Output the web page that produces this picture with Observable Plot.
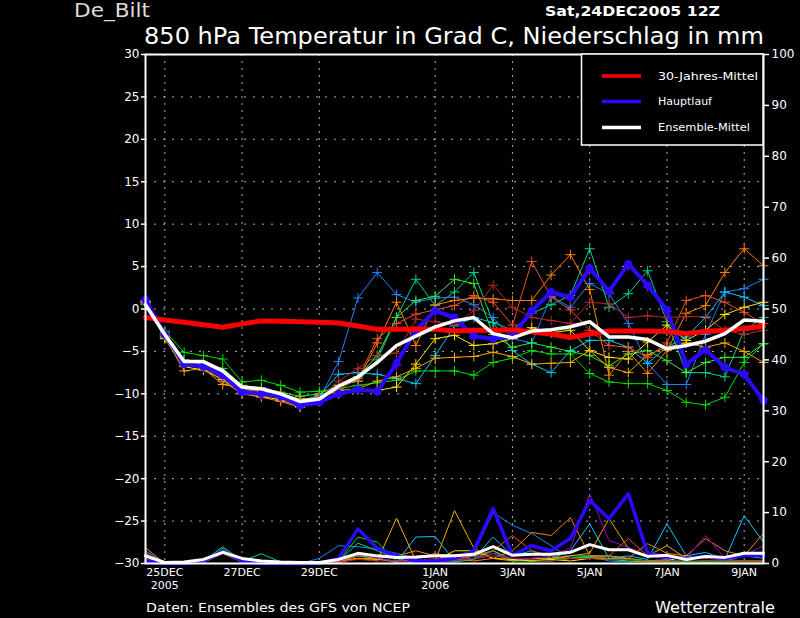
<!DOCTYPE html>
<html><head><meta charset="utf-8">
<script src="https://cdn.jsdelivr.net/npm/d3@7"></script>
<script src="https://cdn.jsdelivr.net/npm/@observablehq/plot@0.6"></script>
<style>
body{margin:0;background:#000;}
#chart{width:800px;height:618px;background:#000;}
</style>
</head><body><div id="chart"></div>
<script>
// ---- DATA ----
const station = "De_Bilt";
const runLabel = "Sat,24DEC2005 12Z";
const titleText = "850 hPa Temperatur in Grad C, Niederschlag in mm";
const sourceText = "Daten: Ensembles des GFS von NCEP";
const brandText = "Wetterzentrale";
const startTime = "2005-12-24T12:00Z";
const stepHours = 12;
const xTickDates = ["2005-12-25","2005-12-27","2005-12-29","2006-01-01","2006-01-03","2006-01-05","2006-01-07","2006-01-09"];
const xTickLabels = ["25DEC\n2005","27DEC","29DEC","1JAN\n2006","3JAN","5JAN","7JAN","9JAN"];
const tempTicks = [-30,-25,-20,-15,-10,-5,0,5,10,15,20,25,30];
const precipTicks = [0,10,20,30,40,50,60,70,80,90,100];
const legendLabels = ["30-Jahres-Mittel","Hauptlauf","Ensemble-Mittel"];

// 30-year climate mean (deg C)
const climT = [-1.0,-1.3,-1.55,-1.85,-2.15,-1.75,-1.4,-1.45,-1.5,-1.55,-1.65,-2.0,-2.4,-2.4,-2.35,-2.4,-2.6,-2.5,-2.5,-2.45,-2.7,-2.95,-3.35,-2.95,-2.6,-2.6,-2.6,-2.65,-2.9,-2.65,-2.5,-2.3,-2.0];
// Main run (Hauptlauf)
const mainT = [1.1,-3.0,-6.5,-6.8,-7.8,-9.8,-10.0,-10.3,-11.4,-11.0,-10.0,-9.5,-9.7,-6.4,-2.5,-0.2,-1.0,-3.2,-3.5,-3.2,-0.2,2.0,1.4,4.8,2.1,5.3,2.8,-0.1,-6.5,-4.8,-6.9,-7.7,-10.8];
const mainP = [0.5,0,0,0.5,2.5,0.5,0,0,0,0,1.0,6.8,3.0,1.5,0.5,0.5,1.0,2.5,10.8,1.6,3.5,2.5,4.9,12.4,8.8,13.7,2.0,1.4,1.0,1.4,1.0,1.6,1.6];
// Ensemble mean
const meanT = [0.5,-3.0,-6.2,-6.2,-7.3,-9.2,-9.4,-10.0,-10.9,-10.6,-9.1,-8.0,-6.3,-4.3,-3.2,-2.1,-1.4,-1.0,-2.9,-3.4,-2.6,-2.45,-2.1,-1.5,-3.3,-3.3,-3.6,-4.7,-4.3,-3.8,-2.9,-1.3,-1.45];
const meanP = [1.5,0.2,0.3,0.8,2.2,1.0,0.5,0.3,0.2,0.2,0.8,2.0,1.5,1.2,1.3,1.5,1.5,1.8,3.3,1.6,1.8,1.8,2.2,3.7,2.7,2.7,1.4,1.6,0.8,1.4,1.2,2.0,2.0];

// Ensemble members
const memberNames  = ["m01","m02","m03","m04","m05","m06","m07","m08","m09","m10","m11"];
const memberColors = ["#1e82ff","#00c8ff","#00d28c","#00dc00","#32ec32","#ffe600","#f0aa00","#ff8200","#f05028","#b4282d","#a000c8"];
const m01T = [0.8,-3.2,-6.5,-6.9,-8.1,-9.7,-10.1,-10.5,-11.3,-10.6,-6.2,1.3,4.3,1.7,0.8,1.3,1.4,0.5,-1.0,-3.5,-4.0,1.5,0.2,3.0,1.8,-1.7,-6.4,-8.9,-8.9,-3.0,2.0,2.4,3.5];
const m02T = [0.6,-2.8,-6.0,-6.5,-7.6,-9.4,-9.8,-10.2,-10.8,-10.2,-7.7,-7.5,-7.7,-8.2,-8.8,-5.5,-2.0,-1.0,-1.6,-4.9,-6.5,-7.5,-4.9,-3.7,-3.7,-4.5,-6.4,-4.5,-3.3,-1.0,2.0,1.4,0.4];
const m03T = [0.7,-3.0,-6.0,-6.6,-7.8,-9.5,-9.7,-10.0,-10.7,-10.4,-9.0,-8.5,-6.0,-1.0,3.5,0.4,2.0,4.3,-1.6,-2.5,-0.5,0.5,1.6,7.1,0.2,1.8,4.5,-1.5,-7.5,-7.5,-8.0,-2.5,-1.0];
const m04T = [0.5,-2.6,-5.1,-5.5,-5.9,-8.6,-8.4,-9.0,-9.8,-9.7,-9.4,-9.0,-8.7,-8.4,-7.3,-7.3,-7.3,-7.8,-6.3,-5.8,-4.9,-5.3,-5.3,-7.6,-8.6,-8.8,-8.8,-9.6,-11.0,-11.3,-10.4,-6.3,-4.1];
const m05T = [0.9,-3.4,-6.2,-6.4,-7.0,-9.0,-9.3,-9.8,-10.3,-10.0,-9.0,-8.0,-5.5,-1.0,1.0,1.5,3.5,3.0,-3.0,-4.5,-4.0,-4.5,-5.0,-5.5,-6.7,-5.3,-4.9,-6.1,-7.5,-6.3,-5.7,-5.7,-4.1];
const m06T = [0.9,-3.5,-6.8,-7.2,-8.3,-9.9,-10.3,-10.7,-11.5,-10.9,-10.0,-9.5,-9.6,-9.2,-6.5,-3.5,-3.1,-4.3,-4.1,-3.5,-2.2,-2.8,-2.5,-4.9,-5.7,-5.9,-3.9,-1.9,-3.7,-2.5,-0.65,0.2,0.8];
const m07T = [1.0,-3.3,-7.3,-7.0,-8.9,-9.3,-9.6,-10.0,-10.6,-10.5,-9.6,-9.4,-8.5,-8.0,-7.0,-5.8,-5.7,-5.6,-5.1,-5.6,-6.5,-6.4,-6.3,-4.9,-6.9,-7.5,-5.4,-4.5,-4.0,-4.5,-4.0,-5.0,-6.3];
const m08T = [0.8,-3.0,-6.5,-6.9,-8.5,-10.0,-10.4,-10.9,-11.6,-10.8,-9.0,-8.5,-4.0,0.8,-4.3,0.5,1.0,1.3,1.2,1.0,1.0,4.0,6.4,2.3,-7.8,-5.0,-7.6,-4.9,-0.5,0.4,4.3,7.1,5.1];
const m09T = [0.7,-3.1,-6.6,-6.6,-8.0,-9.4,-9.7,-10.2,-11.0,-10.3,-9.5,-8.2,-3.5,-1.7,-0.6,-0.1,0.4,1.6,0.8,-1.9,5.6,1.4,-0.1,-2.5,-4.3,-4.5,-5.7,-4.0,1.0,1.6,0.8,-0.4,-1.7];
const m10T = [0.6,-3.0,-6.2,-6.5,-7.7,-9.6,-10.0,-10.4,-11.1,-10.5,-8.5,-7.0,-5.5,-5.2,-1.2,-1.5,-1.9,-0.2,2.8,0.2,-1.0,-1.35,-1.7,0.8,0.6,-1.0,-0.8,-1.0,-0.9,-0.9,-2.5,-3.0,-2.5];
const m11T = [1.0,-3.1,-6.4,-6.9,-7.9,-9.7,-10.1,-10.4,-11.3,-10.9,-9.9,-9.4,-9.6,-6.6,-2.7,-0.4,-1.2,-3.3,-3.6,-3.3,-0.4,1.8,1.2,4.6,2.0,5.1,2.6,-0.3,-6.3,-4.9,-6.8,-7.6,-10.6];
const m01P = [2.0,0,0,0.3,2.5,0.3,0,0,0,1.0,3.5,3.3,2.8,2.0,1.0,1.5,1.0,2.0,10.0,7.5,5.9,3.5,1.0,1.5,0.5,0.3,0.5,0.8,0.3,0.5,0.5,1.5,1.0];
const m02P = [2.5,0,0,0.2,2.0,0.3,0,0,0,0,0.5,1.5,1.0,0.2,5.2,5.3,0.5,1.0,5.2,1.5,2.5,1.0,2.5,7.8,1.0,1.5,0.8,7.8,1.5,2.2,0.8,9.4,4.2];
const m03P = [1.0,0,0,0.5,3.3,0.5,1.9,0.3,0,0,0.5,4.0,2.5,1.0,0.3,0.5,0.5,1.5,2.5,0.5,1.0,1.0,1.5,1.5,1.0,1.0,0.5,0.5,0.3,0.5,0.3,0.5,0.5];
const m04P = [0.5,0,0,0.3,3.0,0.3,0,0,0,0,0.5,5.2,4.2,0.5,0.3,0.3,0.3,0.8,2.0,0.5,0.5,1.0,1.0,1.5,1.5,1.0,0.5,0.3,0.5,0.3,0.5,0.5,0.5];
const m05P = [0.3,0,0,0.2,2.8,0.2,0,0,0,0,0.3,1.5,1.0,0.3,0.2,0.2,0.5,1.0,2.5,0.8,0.5,0.5,1.0,1.2,0.8,0.5,0.3,0.3,0.3,0.2,0.3,0.3,0.3];
const m06P = [1.6,0,0,0.2,2.2,0.2,0,0,0,0,0.2,1.0,0.8,0.5,0.5,0.5,2.5,2.5,1.0,0.8,0.5,0.8,0.5,1.0,0.8,0.8,0.5,0.5,1.5,1.0,1.0,2.0,2.2];
const m07P = [1.5,0,0,0.3,2.0,0.3,0,0,0,0,0.3,1.0,0.5,8.9,0.5,0.5,10.4,3.0,1.0,0.5,1.0,1.0,1.5,2.0,8.8,3.0,1.5,3.5,1.0,1.0,1.0,1.5,2.0];
const m08P = [3.1,0,0,0.3,2.5,0.5,0,0,0,0,0.5,1.0,1.0,1.5,2.5,1.5,1.0,0.5,1.0,2.5,6.1,5.5,9.0,1.5,1.5,1.0,3.9,2.0,1.5,4.9,2.5,1.5,5.9];
const m09P = [2.0,0,0,0.3,2.5,0.5,0,0,0,0,0.5,1.5,1.5,1.0,1.0,2.0,1.0,1.5,2.5,5.5,2.5,1.5,1.0,1.0,1.5,4.9,1.5,1.0,1.0,1.0,0.8,0.5,0.5];
const m10P = [1.0,0,0,0.3,2.0,0.3,0,0,0,0,0.3,0.8,0.5,0.5,0.5,1.0,0.8,1.0,1.5,1.0,0.8,0.5,1.0,1.0,0.8,0.8,0.5,0.5,0.5,0.5,0.5,0.5,0.5];
const m11P = [0.5,0,0,0.3,2.5,0.3,0,0,0,0,0.5,2.0,1.0,0.5,0.3,0.3,0.5,1.0,2.0,1.0,1.0,1.5,3.0,13.7,4.5,3.2,1.5,1.0,1.0,5.5,1.0,1.5,3.5];

const memberT = [m01T,m02T,m03T,m04T,m05T,m06T,m07T,m08T,m09T,m10T,m11T];
const memberP = [m01P,m02P,m03P,m04P,m05P,m06P,m07P,m08P,m09P,m10P,m11P];

// ---- BUILD ----
const t0 = new Date(startTime);
const times = mainT.map((_, i) => d3.utcHour.offset(t0, stepHours * i));
const xDomain = [t0, times[times.length - 1]];
// precipitation (0..100 mm) shares the vertical with temperature (-30..30 C)
const p2y = p => -30 + p * 0.6;

const memT = [], memP = [];
memberNames.forEach((m, k) => {
  times.forEach((t, i) => {
    memT.push({t, v: memberT[k][i], m, c: memberColors[k]});
    memP.push({t, v: p2y(memberP[k][i]), m, c: memberColors[k]});
  });
});
const rowsOf = (arr, tr = v => v) => times.map((t, i) => ({t, v: tr(arr[i])}));
const clim = rowsOf(climT), mainTr = rowsOf(mainT), meanTr = rowsOf(meanT);
const mainPr = rowsOf(mainP, p2y), meanPr = rowsOf(meanP, p2y);
const xTicks = xTickDates.map(d => new Date(d + "T00:00Z"));
const labelFor = new Map(xTicks.map((d, i) => [+d, xTickLabels[i]]));
const fmtT = d => d < 0 ? "\u2212" + (-d) : String(d);

const chart = Plot.plot({
  width: 800, height: 618,
  marginLeft: 145, marginRight: 37, marginTop: 54, marginBottom: 55,
  style: {background: "#000", color: "#fff", fontFamily: "DejaVu Sans, sans-serif", fontSize: "12px"},
  x: {type: "utc", domain: xDomain},
  y: {domain: [-30, 30]},
  color: {type: "identity"},
  marks: [
    Plot.gridY(tempTicks.slice(1, -1), {stroke: "#b0b0b0", strokeOpacity: 1, strokeDasharray: "2,7"}),
    Plot.gridX(xTicks, {stroke: "#b0b0b0", strokeOpacity: 1, strokeDasharray: "2,5"}),
    // members temperature
    Plot.line(memT, {x: "t", y: "v", z: "m", stroke: "c", strokeWidth: 1}),
    Plot.dot(memT, {x: "t", y: "v", stroke: "c", symbol: "plus", r: 3.3, strokeWidth: 1}),
    // members precipitation
    Plot.line(memP, {x: "t", y: "v", z: "m", stroke: "c", strokeWidth: 1}),
    // main run
    Plot.line(mainPr, {x: "t", y: "v", stroke: "#2a0aff", strokeWidth: 3.5}),
    Plot.line(mainTr, {x: "t", y: "v", stroke: "#2a0aff", strokeWidth: 4}),
    Plot.dot(mainTr, {x: "t", y: "v", fill: "#2a0aff", r: 4}),
    // climate
    Plot.line(clim, {x: "t", y: "v", stroke: "#ff0000", strokeWidth: 5}),
    // ensemble mean
    Plot.line(meanPr, {x: "t", y: "v", stroke: "#ffffff", strokeWidth: 3}),
    Plot.line(meanTr, {x: "t", y: "v", stroke: "#ffffff", strokeWidth: 3.5}),
    Plot.frame({stroke: "#fff", strokeWidth: 2}),
    Plot.axisY(tempTicks, {anchor: "left", tickSize: 4, tickPadding: 2, tickFormat: fmtT, label: null, stroke: "#fff", strokeWidth: 1.5, fontSize: 12}),
    Plot.axisY(precipTicks.map(p2y), {anchor: "right", tickSize: 5, tickPadding: 3, tickFormat: d => String(Math.round((d + 30) / 0.6)), label: null, stroke: "#fff", strokeWidth: 1.5, fontSize: 12}),
    Plot.axisX(xTicks, {anchor: "bottom", tickSize: 0, tickPadding: 4, tickFormat: d => labelFor.get(+d), label: null, fontSize: 11, lineHeight: 1.15})
  ]
});

const svg = d3.select(chart);
const addText = (x, y, txt, size, len, opts = {}) => svg.append("text")
  .attr("x", x).attr("y", y).attr("fill", opts.fill || "#fff")
  .attr("text-anchor", "start")
  .attr("font-family", "DejaVu Sans, sans-serif").attr("font-size", size)
  .attr("font-weight", opts.weight || "normal")
  .attr("textLength", len).attr("lengthAdjust", "spacingAndGlyphs").text(txt);
addText(74, 17, station, 19, 76, {fill: "#ddd"});
addText(545, 16, runLabel, 14, 175, {weight: "bold"});
addText(144, 44, titleText, 23.5, 620);
addText(146, 612, sourceText, 13, 264);
addText(655, 613, brandText, 15, 120);

// Legend box
const lg = svg.append("g");
lg.append("rect").attr("x", 581.5).attr("y", 54).attr("width", 181.5).attr("height", 91)
  .attr("fill", "#000").attr("stroke", "#fff").attr("stroke-width", 1.5);
const legColors = ["#ff0000", "#2a0aff", "#ffffff"];
const legY = [76, 101.5, 127.5];
const legLen = [100, 54, 92];
legendLabels.forEach((lab, i) => {
  lg.append("line").attr("x1", 602).attr("x2", 641).attr("y1", legY[i]).attr("y2", legY[i])
    .attr("stroke", legColors[i]).attr("stroke-width", 3.5);
  lg.append("text").attr("x", 658).attr("y", legY[i]).attr("dy", "0.35em").attr("fill", "#fff")
    .attr("text-anchor", "start")
    .attr("font-family", "DejaVu Sans, sans-serif").attr("font-size", 11)
    .attr("textLength", legLen[i]).attr("lengthAdjust", "spacingAndGlyphs").text(lab);
});
document.getElementById("chart").appendChild(chart);
</script>
</body></html>
